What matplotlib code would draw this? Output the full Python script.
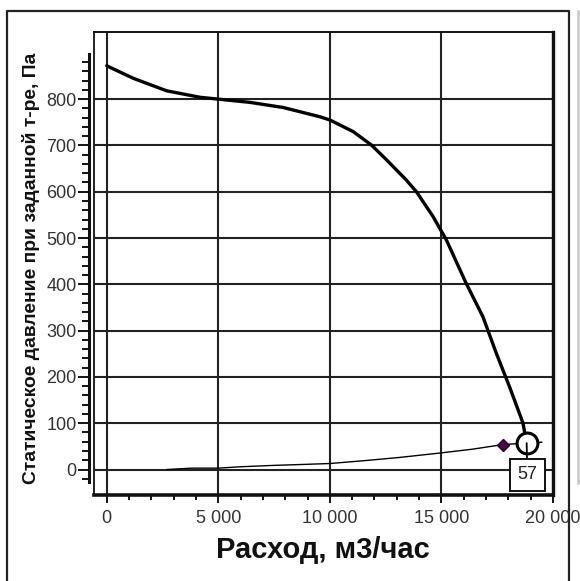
import matplotlib
matplotlib.use("Agg")
import matplotlib.pyplot as plt
from matplotlib.lines import Line2D
from matplotlib.ticker import FixedLocator, MultipleLocator, FuncFormatter

plt.rcParams['font.family'] = ['Liberation Sans', 'DejaVu Sans']

# характеристика вентилятора
fan_x = [0, 1190, 2685, 4180, 5000, 6420, 7900, 9550, 10000, 11040, 11860,
         12540, 13430, 13880, 14630, 15220, 16110, 16860, 17460, 18050, 18650, 18820]
fan_y = [872, 845, 818, 804, 800, 793, 782, 762, 755, 730, 701,
         669, 625, 600, 546, 496, 402, 330, 251, 179, 101, 57]

# характеристика сети
net_x = [2700, 3800, 5000, 6000, 7500, 8800, 10000, 11500, 13100, 15000, 16400, 17760, 18820, 19500]
net_y = [0, 3, 3, 6, 9, 11, 13, 19, 26, 36, 44, 54, 57, 59]

design_x, design_y = 17760, 54
work_x, work_y = 18820, 57
work_label = "57"

x_ticks = [0, 5000, 10000, 15000, 20000]
y_ticks = [0, 100, 200, 300, 400, 500, 600, 700, 800]

fig = plt.figure(figsize=(5.8, 5.81), dpi=100)
ax = fig.add_axes([94 / 580, 86 / 581, 459 / 580, 463 / 581])

ax.set_xlim(-570, 20000)
ax.set_ylim(-55, 945)

ax.xaxis.set_major_locator(FixedLocator(x_ticks))
ax.xaxis.set_minor_locator(MultipleLocator(1000))
ax.yaxis.set_major_locator(FixedLocator(y_ticks))
ax.yaxis.set_minor_locator(FixedLocator(list(range(-20, 900, 20))))
ax.xaxis.set_major_formatter(FuncFormatter(lambda v, p: f"{int(v):,}".replace(",", " ")))

ax.grid(True, which='major', color='#222', lw=1.5)
ax.set_axisbelow(True)

ax.spines['left'].set_position(('outward', 3.6))
ax.spines['left'].set_bounds(-27, 898)
ax.spines['left'].set_linewidth(2.2)
ax.spines['bottom'].set_linewidth(2.6)
ax.spines['right'].set_linewidth(2.4)
ax.spines['top'].set_linewidth(1.4)
for s in ax.spines.values():
    s.set_color('#111')
ax.plot([0, 0], [0, 1], transform=ax.transAxes, clip_on=False, color='#222', lw=1.4)

ax.tick_params(axis='y', which='major', length=8, width=1.3, pad=1, labelsize=13, labelcolor='#333')
ax.tick_params(axis='y', which='minor', length=5, width=1.3)
ax.tick_params(axis='x', which='major', length=6, width=1.3, pad=5, labelsize=13, labelcolor='#333')
ax.tick_params(axis='x', which='minor', length=3.6, width=1.3)

ax.plot(net_x, net_y, color='black', lw=1.0)
ax.plot(fan_x, fan_y, color='black', lw=2.4, solid_capstyle='round', solid_joinstyle='round')
ax.plot(design_x, design_y, marker='D', color='#4a0a4a', ms=6.5, mec='#2a002a')
ax.plot(work_x, work_y, marker='o', ms=15, mfc='white', mec='black', mew=2.2)
ax.annotate(work_label, xy=(work_x, work_y), xytext=(18850, -11),
            ha='center', va='center', fontsize=13, color='#222',
            bbox=dict(boxstyle='square,pad=0.42', fc='white', ec='#111', lw=1.4),
            arrowprops=dict(arrowstyle='-', color='black', lw=1.3, shrinkA=0, shrinkB=0))

fig.text(323 / 580, 1 - 558 / 581, "Расход, м3/час", fontsize=21, fontweight='bold',
         ha='center', va='baseline', color='#111')
fig.text(36 / 580, 1 - 268 / 581, "Статическое давление при заданной т-ре, Па",
         fontsize=13.9, fontweight='bold', rotation=90, rotation_mode='anchor',
         ha='center', va='baseline', color='#111')

# рамка
fx = lambda px: px / 580
fy = lambda py: 1 - py / 581
fig.add_artist(Line2D([fx(7), fx(7), fx(569), fx(569)], [0, fy(11), fy(11), 0],
                      color='#222', lw=1.6))
fig.add_artist(Line2D([fx(578), fx(578)], [fy(11), fy(483)], color='#c8c8c8', lw=1.8))

fig.savefig("out.png", dpi=100)
